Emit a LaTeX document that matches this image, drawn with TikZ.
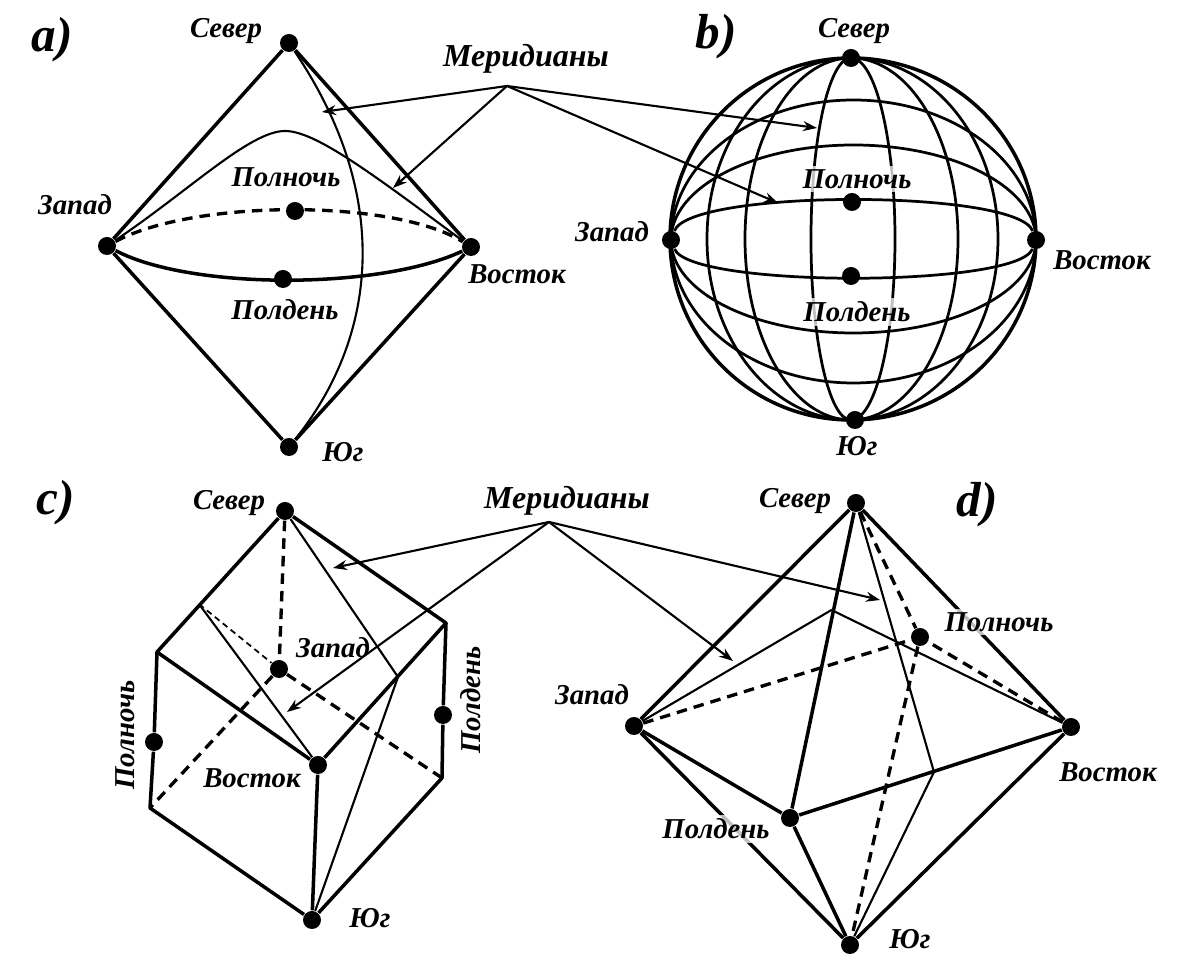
\documentclass[tikz,border=0pt]{standalone}
\usepackage{fontspec}
\setmainfont{Liberation Serif}
\usetikzlibrary{arrows.meta,calc,positioning}
\tikzset{
vtx/.style={circle,fill=black,inner sep=0pt,minimum size=0.18cm},
rim/.style={line width=1pt,line join=round},
hidden/.style={line width=0.95pt,dash pattern=on 3pt off 2pt},
meridian/.style={line width=0.6pt,line join=round},
gridline/.style={line width=0.78pt},
hiddenthin/.style={line width=0.5pt,dash pattern=on 1.7pt off 1.2pt},
pointer/.style={line width=0.6pt,-{Stealth[length=0.14cm,width=0.1cm]}},
lbl/.style={font=\bfseries\itshape\fontsize{8.2}{9}\selectfont,inner sep=0pt},
lblw/.style={lbl,fill=white,fill opacity=0.75,text opacity=1,inner sep=1pt},
merlbl/.style={font=\bfseries\itshape\fontsize{9.1}{11}\selectfont,inner sep=0pt},
panel/.style={font=\bfseries\itshape\fontsize{14}{15}\selectfont,inner sep=0pt}
}
\begin{document}
\begin{tikzpicture}
\useasboundingbox (0,0) rectangle (12,9.64);
% a) cone pair
\draw (2.89,9.21) node (aN) [vtx] {};
\draw (1.07,7.18) node (aW) [vtx] {};
\draw (4.71,7.17) node (aE) [vtx] {};
\draw (2.89,5.17) node (aS) [vtx] {};
\draw (2.95,7.53) node (aM) [vtx] {};
\draw (2.83,6.85) node (aD) [vtx] {};
\coordinate (aP) at (2.85,8.33);
\draw[rim] (aN)--(aW);
\draw[rim] (aN)--(aE);
\draw[rim] (aS)--(aW);
\draw[rim] (aS)--(aE);
\draw[hidden] (aW) .. controls (1.95,7.65) and (3.95,7.65) .. (aE);
\draw[rim] (aW) .. controls (1.9,6.74) and (3.8,6.74) .. (aE);
\draw[meridian] (aN) .. controls (3.95,7.64) and (3.75,6.24) .. (aS);
\draw[meridian] (aW) .. controls (1.90,7.74) and (2.50,8.33) .. (aP) .. controls (3.15,8.33) and (3.70,7.92) .. (aE);
% b) sphere
\draw (8.51,9.06) node (bN) [vtx] {};
\draw (8.55,5.44) node (bS) [vtx] {};
\draw (6.71,7.24) node (bW) [vtx] {};
\draw (10.36,7.24) node (bE) [vtx] {};
\draw (8.52,7.62) node (bM) [vtx] {};
\draw (8.51,6.88) node (bD) [vtx] {};
\draw[rim] (bN.center) arc [start angle=90,end angle=270,x radius=1.81,y radius=1.81];
\draw[rim] (bN.center) arc [start angle=90,end angle=-90,x radius=1.85,y radius=1.81];
\draw[gridline] (bN.center) arc [start angle=90,end angle=270,x radius=1.44,y radius=1.81];
\draw[gridline] (bN.center) arc [start angle=90,end angle=270,x radius=1.06,y radius=1.81];
\draw[gridline] (bN.center) arc [start angle=90,end angle=270,x radius=0.40,y radius=1.81];
\draw[gridline] (bN.center) arc [start angle=90,end angle=-90,x radius=0.44,y radius=1.81];
\draw[gridline] (bN.center) arc [start angle=90,end angle=-90,x radius=1.07,y radius=1.81];
\draw[gridline] (bN.center) arc [start angle=90,end angle=-90,x radius=1.47,y radius=1.81];
\draw[gridline] (bW.center) arc [start angle=180,end angle=0,x radius=1.825,y radius=1.40];
\draw[gridline] (bW.center) arc [start angle=180,end angle=0,x radius=1.825,y radius=0.95];
\draw[gridline] (bW) .. controls (6.90,7.75) and (10.17,7.75) .. (bE);
\draw[gridline] (bW) .. controls (6.90,6.76) and (10.17,6.76) .. (bE);
\draw[gridline] (bW.center) arc [start angle=180,end angle=360,x radius=1.825,y radius=0.93];
\draw[gridline] (bW.center) arc [start angle=180,end angle=360,x radius=1.825,y radius=1.43];
% c) cube standing on a corner
\draw (2.85,4.53) node (cN) [vtx] {};
\draw (3.18,1.99) node (cE) [vtx] {};
\draw (2.79,2.95) node (cW) [vtx] {};
\draw (1.54,2.22) node (cM) [vtx] {};
\draw (4.43,2.49) node (cD) [vtx] {};
\draw (3.12,0.44) node (cS) [vtx] {};
\coordinate (cA) at (1.57,3.12);
\coordinate (cB) at (4.46,3.41);
\coordinate (cC) at (1.50,1.56);
\coordinate (cF) at (4.42,1.86);
\coordinate (cP) at (1.99,3.60);
\coordinate (cQ) at (3.98,2.87);
\draw[rim] (cN)--(cA)--(cE);
\draw[rim] (cN)--(cB)--(cE);
\draw[rim] (cA)--(cM)--(cC)--(cS);
\draw[rim] (cB)--(cD)--(cF)--(cS);
\draw[rim] (cE)--(cS);
\draw[hidden] (cN)--(cW);
\draw[hidden] (cW)--(cC);
\draw[hidden] (cW)--(cF);
\draw[hiddenthin] (cP)--(cW);
\draw[meridian] (cP)--(cE);
\draw[meridian] (cN)--(cQ)--(cS);
% d) octahedron
\draw (8.56,4.61) node (dN) [vtx] {};
\draw (6.34,2.38) node (dW) [vtx] {};
\draw (10.71,2.37) node (dE) [vtx] {};
\draw (8.50,0.19) node (dS) [vtx] {};
\draw (9.20,3.27) node (dM) [vtx] {};
\draw (7.90,1.46) node (dD) [vtx] {};
\coordinate (dP) at (8.315,3.54);
\coordinate (dQ) at (9.34,1.92);
\draw[rim] (dN)--(dW);
\draw[rim] (dN)--(dE);
\draw[rim] (dS)--(dW);
\draw[rim] (dS)--(dE);
\draw[rim] (dN)--(dD);
\draw[rim] (dW)--(dD);
\draw[rim] (dE)--(dD);
\draw[rim] (dD)--(dS);
\draw[hidden] (dW)--(dM);
\draw[hidden] (dE)--(dM);
\draw[hidden] (dN)--(dM);
\draw[hidden] (dM)--(dS);
\draw[meridian] (dW)--(dP)--(dE);
\draw[meridian] (dN)--(dQ)--(dS);
% labels
\draw (0.52,9.24) node (aT) [panel] {a)};
\draw (2.26,9.33) node (aNl) [lbl] {Север};
\draw (0.75,7.59) node (aWl) [lbl] {Запад};
\draw (5.17,6.90) node (aEl) [lbl] {Восток};
\draw (3.43,5.12) node (aSl) [lbl] {Юг};
\draw (2.86,7.87) node (aMl) [lbl] {Полночь};
\draw (2.85,6.54) node (aDl) [lbl] {Полдень};
\draw (7.16,9.27) node (bT) [panel] {b)};
\draw (8.54,9.33) node (bNl) [lbl] {Север};
\draw (6.12,7.32) node (bWl) [lbl] {Запад};
\draw (11.02,7.04) node (bEl) [lbl] {Восток};
\draw (8.57,5.18) node (bSl) [lbl] {Юг};
\draw (8.57,7.85) node (bMl) [lblw] {Полночь};
\draw (8.57,6.52) node (bDl) [lblw] {Полдень};
\draw (0.56,4.61) node (cT) [panel] {c)};
\draw (2.29,4.61) node (cNl) [lbl] {Север};
\draw (3.33,3.16) node (cWl) [lbl] {Запад};
\draw (2.52,1.86) node (cEl) [lbl] {Восток};
\draw (3.70,0.46) node (cSl) [lbl] {Юг};
\draw (1.25,2.29) node (cMl) [lbl,rotate=90] {Полночь};
\draw (4.71,2.64) node (cDl) [lbl,rotate=90] {Полдень};
\draw (9.77,4.59) node (dT) [panel] {d)};
\draw (7.95,4.63) node (dNl) [lbl] {Север};
\draw (5.92,2.69) node (dWl) [lbl] {Запад};
\draw (11.08,1.92) node (dEl) [lbl] {Восток};
\draw (9.10,0.25) node (dSl) [lbl] {Юг};
\draw (9.99,3.42) node (dMl) [lblw] {Полночь};
\draw (7.16,1.35) node (dDl) [lblw] {Полдень};
% pointers
\draw (5.26,9.05) node (merT) [merlbl] {Меридианы};
\coordinate (merA) at (5.07,8.78);
\coordinate (tA1) at (3.22,8.52);
\coordinate (tA2) at (3.93,7.76);
\coordinate (tA3) at (8.17,8.36);
\coordinate (tA4) at (7.78,7.61);
\draw[pointer] (merA)--(tA1);
\draw[pointer] (merA)--(tA2);
\draw[pointer] (merA)--(tA3);
\draw[pointer] (merA)--(tA4);
\draw (5.67,4.63) node (merB) [merlbl] {Меридианы};
\coordinate (merC) at (5.49,4.42);
\coordinate (tB1) at (3.33,3.96);
\coordinate (tB2) at (2.87,2.52);
\coordinate (tB3) at (8.80,3.64);
\coordinate (tB4) at (7.33,3.03);
\draw[pointer] (merC)--(tB1);
\draw[pointer] (merC)--(tB2);
\draw[pointer] (merC)--(tB3);
\draw[pointer] (merC)--(tB4);
\end{tikzpicture}
\end{document}
